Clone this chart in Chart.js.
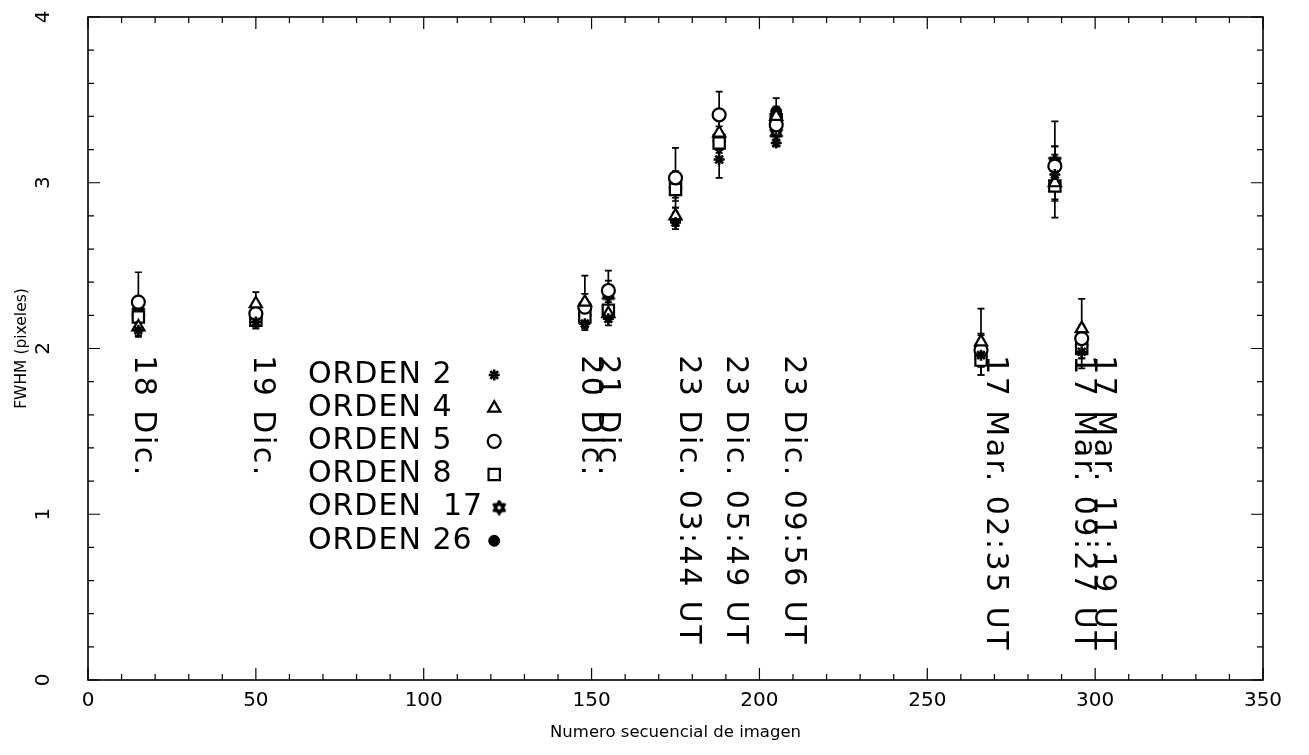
<!DOCTYPE html>
<html>
<head>
<meta charset="utf-8">
<title>FWHM por imagen</title>
<script src="https://cdn.jsdelivr.net/npm/chart.js@4.4.0/dist/chart.umd.min.js"></script>
<style>
  html, body { margin: 0; padding: 0; background: #fff; }
  #grafico { display: block; }
</style>
</head>
<body>
<canvas id="grafico" width="1309" height="755"></canvas>
<script>
// numero secuencial de imagen de cada grupo
const xs = [15, 50, 148, 155, 175, 188, 205, 266, 288, 296];

// FWHM (pixeles) y su error por orden
const orden2 = [2.11, 2.16, 2.15, 2.18, 2.76, 3.14, 3.24, 1.96, 3.05, 1.98];
const orden2Err = [0.04, 0.04, 0.04, 0.04, 0.04, 0.11, 0.02, 0.06, 0.08, 0.10];
const orden4 = [2.13, 2.27, 2.28, 2.21, 2.80, 3.30, 3.40, 2.04, 3.00, 2.12];
const orden4Err = [0.05, 0.07, 0.16, 0.05, 0.05, 0.08, 0.06, 0.20, 0.10, 0.18];
const orden5 = [2.28, 2.21, 2.25, 2.35, 3.03, 3.41, 3.35, 1.99, 3.10, 2.06];
const orden5Err = [0.18, 0.05, 0.08, 0.12, 0.18, 0.14, 0.07, 0.10, 0.12, 0.08];
const orden8 = [2.19, 2.17, 2.19, 2.23, 2.96, 3.24, 3.38, 1.93, 2.98, 2.00];
const orden8Err = [0.06, 0.04, 0.06, 0.05, 0.07, 0.06, 0.05, 0.09, 0.19, 0.06];
const orden17 = [2.22, 2.20, 2.22, 2.32, 2.99, 3.27, 3.30, 1.97, 3.13, 2.04];
const orden17Err = [0.06, 0.05, 0.07, 0.06, 0.08, 0.07, 0.05, 0.08, 0.24, 0.07];
const orden26 = [2.24, 2.18, 2.20, 2.33, 2.78, 3.22, 3.43, 2.01, 3.12, 2.03];
const orden26Err = [0.07, 0.04, 0.06, 0.08, 0.04, 0.08, 0.08, 0.07, 0.10, 0.06];

const xTicks = [0, 50, 100, 150, 200, 250, 300, 350];
const yTicks = [0, 1, 2, 3, 4];

// fechas escritas en vertical bajo cada grupo
const fechas = [
  { x: 16.4, y: 1.96, text: "18 Dic." },
  { x: 51.8, y: 1.96, text: "19 Dic." },
  { x: 149.5, y: 1.96, text: "20 Dic." },
  { x: 154.6, y: 1.96, text: "21 Dic." },
  { x: 178.7, y: 1.96, text: "23 Dic. 03:44 UT" },
  { x: 192.7, y: 1.96, text: "23 Dic. 05:49 UT" },
  { x: 210.0, y: 1.96, text: "23 Dic. 09:56 UT" },
  { x: 270.2, y: 1.96, text: "17 Mar. 02:35 UT" },
  { x: 296.4, y: 1.96, text: "17 Mar. 09:27 UT" },
  { x: 302.4, y: 1.96, text: "17 Mar. 11:19 UT" },
];

// estrella de seis puntas para el orden 17
const hexagrama = document.createElement("canvas");
hexagrama.width = 16;
hexagrama.height = 16;
(function () {
  const c = hexagrama.getContext("2d");
  c.strokeStyle = "#000";
  c.lineWidth = 2.8;
  c.lineJoin = "round";
  const r = 6.2;
  for (const rot of [-Math.PI / 2, Math.PI / 2]) {
    c.beginPath();
    for (let k = 0; k < 3; k++) {
      const a = rot + (k * 2 * Math.PI) / 3;
      const px = 8 + r * Math.cos(a);
      const py = 8 + r * Math.sin(a);
      k === 0 ? c.moveTo(px, py) : c.lineTo(px, py);
    }
    c.closePath();
    c.stroke();
  }
})();

const series = [
  { label: "ORDEN 2", data: orden2, err: orden2Err, style: "star", radius: 5.5, fill: "#000", bw: 2.6 },
  { label: "ORDEN 4", data: orden4, err: orden4Err, style: "triangle", radius: 7, fill: "#fff", bw: 2.2 },
  { label: "ORDEN 5", data: orden5, err: orden5Err, style: "circle", radius: 6.5, fill: "#fff", bw: 2.2 },
  { label: "ORDEN 8", data: orden8, err: orden8Err, style: "rect", radius: 8, fill: "#fff", bw: 2.2 },
  { label: "ORDEN  17", data: orden17, err: orden17Err, style: hexagrama, radius: 8, fill: "#000", bw: 0 },
  { label: "ORDEN 26", data: orden26, err: orden26Err, style: "circle", radius: 5.5, fill: "#000", bw: 1 },
];

const FONT = '"DejaVu Sans", sans-serif';

const barrasError = {
  id: "barrasError",
  beforeDatasetsDraw(chart) {
    const { ctx, scales } = chart;
    ctx.save();
    ctx.strokeStyle = "#000";
    ctx.lineWidth = 1.7;
    series.forEach((s) => {
      s.data.forEach((v, i) => {
        const px = scales.x.getPixelForValue(xs[i]);
        const top = scales.y.getPixelForValue(v + s.err[i]);
        const bot = scales.y.getPixelForValue(v - s.err[i]);
        ctx.beginPath();
        ctx.moveTo(px, top);
        ctx.lineTo(px, bot);
        ctx.moveTo(px - 3.5, top);
        ctx.lineTo(px + 3.5, top);
        ctx.moveTo(px - 3.5, bot);
        ctx.lineTo(px + 3.5, bot);
        ctx.stroke();
      });
    });
    ctx.restore();
  },
};

const marco = {
  id: "marco",
  afterDraw(chart) {
    const { ctx, chartArea: a, scales } = chart;
    ctx.save();
    ctx.strokeStyle = "#000";
    ctx.fillStyle = "#000";
    ctx.lineWidth = 1.6;
    ctx.strokeRect(a.left, a.top, a.right - a.left, a.bottom - a.top);

    // marcas del eje x, abajo y arriba
    ctx.lineWidth = 1.2;
    for (let v = 0; v <= 350; v += 10) {
      const px = scales.x.getPixelForValue(v);
      const len = v % 50 === 0 ? 12 : 6;
      ctx.beginPath();
      ctx.moveTo(px, a.bottom);
      ctx.lineTo(px, a.bottom - len);
      ctx.moveTo(px, a.top);
      ctx.lineTo(px, a.top + len);
      ctx.stroke();
    }
    // marcas del eje y, izquierda y derecha
    for (let k = 0; k <= 20; k++) {
      const v = k / 5;
      const py = scales.y.getPixelForValue(v);
      const len = k % 5 === 0 ? 12 : 6;
      ctx.beginPath();
      ctx.moveTo(a.left, py);
      ctx.lineTo(a.left + len, py);
      ctx.moveTo(a.right, py);
      ctx.lineTo(a.right - len, py);
      ctx.stroke();
    }

    // etiquetas
    ctx.font = "20px " + FONT;
    ctx.textAlign = "center";
    ctx.textBaseline = "middle";
    xTicks.forEach((v) => {
      ctx.fillText(String(v), scales.x.getPixelForValue(v), a.bottom + 21);
    });
    yTicks.forEach((v) => {
      ctx.save();
      ctx.translate(a.left - 44, scales.y.getPixelForValue(v));
      ctx.rotate(-Math.PI / 2);
      ctx.fillText(String(v), 0, 0);
      ctx.restore();
    });

    ctx.font = "16.5px " + FONT;
    ctx.fillText("Numero secuencial de imagen", (a.left + a.right) / 2, a.bottom + 53);
    ctx.save();
    ctx.translate(a.left - 66, (a.top + a.bottom) / 2);
    ctx.rotate(-Math.PI / 2);
    ctx.font = "15.5px " + FONT;
    ctx.fillText("FWHM (pixeles)", 0, 0);
    ctx.restore();

    // fechas en vertical
    ctx.font = "30px " + FONT;
    ctx.letterSpacing = "2.5px";
    ctx.textAlign = "left";
    fechas.forEach((f) => {
      ctx.save();
      ctx.translate(scales.x.getPixelForValue(f.x), scales.y.getPixelForValue(f.y));
      ctx.rotate(Math.PI / 2);
      ctx.fillText(f.text, 0, 0);
      ctx.restore();
    });

    // leyenda
    ctx.letterSpacing = "1px";
    series.forEach((s, i) => {
      const py = scales.y.getPixelForValue(1.84 - i * 0.2);
      ctx.fillStyle = "#000";
      ctx.fillText(s.label, scales.x.getPixelForValue(65.5), py);
      ctx.fillStyle = s.fill;
      ctx.lineWidth = s.bw;
      const mx = scales.x.getPixelForValue(i === 4 ? 122.5 : 121);
      Chart.helpers.drawPoint(ctx, { pointStyle: s.style, radius: s.radius, rotation: 0, borderWidth: s.bw }, mx, py);
    });
    ctx.restore();
  },
};

new Chart(document.getElementById("grafico"), {
  type: "scatter",
  data: {
    datasets: series.map((s) => ({
      label: s.label,
      data: s.data.map((v, i) => ({ x: xs[i], y: v })),
      pointStyle: s.style,
      pointRadius: s.radius,
      pointBackgroundColor: s.fill,
      pointBorderColor: "#000",
      pointBorderWidth: s.bw,
      showLine: false,
    })),
  },
  options: {
    responsive: false,
    animation: false,
    layout: { padding: { left: 88, right: 46, top: 17, bottom: 75 } },
    scales: {
      x: { type: "linear", min: 0, max: 350, display: false },
      y: { type: "linear", min: 0, max: 4, display: false },
    },
    plugins: {
      legend: { display: false },
      tooltip: { enabled: false },
    },
  },
  plugins: [barrasError, marco],
});
</script>
</body>
</html>
